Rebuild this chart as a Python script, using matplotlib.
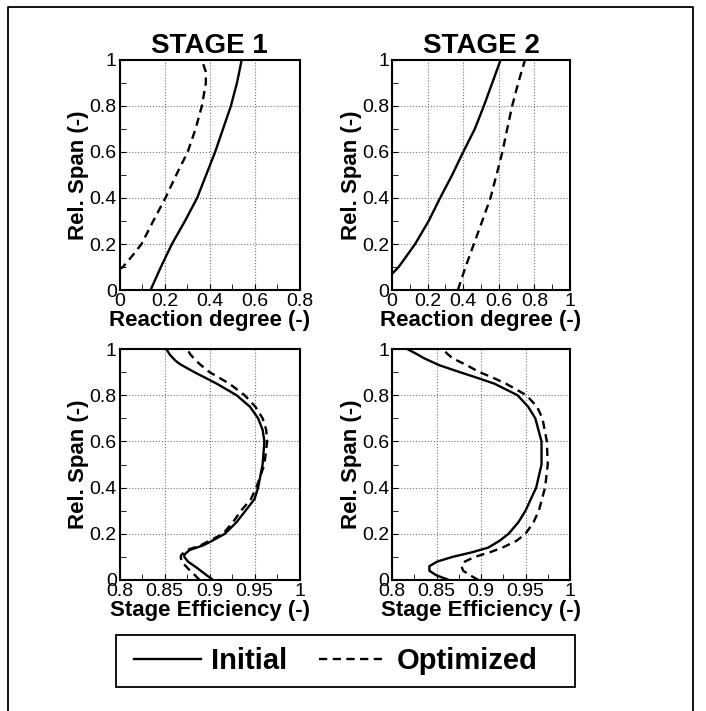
import numpy as np
import matplotlib.pyplot as plt
from matplotlib.lines import Line2D
from matplotlib.ticker import MultipleLocator

plt.rcParams["font.family"] = ["Liberation Sans", "DejaVu Sans"]
plt.rcParams["font.size"] = 14
plt.rcParams["xtick.direction"] = "in"
plt.rcParams["ytick.direction"] = "in"
plt.rcParams["xtick.major.size"] = 4
plt.rcParams["ytick.major.size"] = 4
plt.rcParams["xtick.minor.size"] = 4
plt.rcParams["ytick.minor.size"] = 4
plt.rcParams["xtick.major.pad"] = 2
plt.rcParams["ytick.major.pad"] = 2

# stage 1, reaction degree
s1_rd_init_span = [0.0, 0.1, 0.2, 0.3, 0.4, 0.5, 0.6, 0.7, 0.8, 0.9, 1.0]
s1_rd_init = [0.138, 0.184, 0.233, 0.291, 0.345, 0.385, 0.425, 0.46, 0.495, 0.522, 0.543]
s1_rd_opt_span = [0.09, 0.1, 0.15, 0.2, 0.3, 0.4, 0.5, 0.6, 0.7, 0.8, 0.9, 0.95, 1.0]
s1_rd_opt = [0.0, 0.015, 0.058, 0.098, 0.15, 0.204, 0.252, 0.303, 0.338, 0.366, 0.384, 0.383, 0.366]

# stage 2, reaction degree
s2_rd_init_span = [0.07, 0.1, 0.2, 0.3, 0.4, 0.5, 0.6, 0.7, 0.8, 0.9, 1.0]
s2_rd_init = [0.0, 0.0375, 0.13, 0.206, 0.27, 0.338, 0.40, 0.465, 0.516, 0.563, 0.61]
s2_rd_opt_span = [0.0, 0.1, 0.2, 0.3, 0.4, 0.5, 0.6, 0.7, 0.8, 0.9, 1.0]
s2_rd_opt = [0.37, 0.413, 0.46, 0.507, 0.553, 0.587, 0.62, 0.647, 0.675, 0.709, 0.747]

# stage 1, stage efficiency
s1_eff_span = [0.0, 0.02, 0.05, 0.08, 0.1, 0.11, 0.13, 0.15, 0.17, 0.2, 0.25, 0.3, 0.35, 0.4, 0.5,
               0.6, 0.65, 0.7, 0.75, 0.8, 0.85, 0.9, 0.935, 0.95, 0.975, 1.0]
s1_eff_init = [0.904, 0.897, 0.887, 0.876, 0.872, 0.872, 0.878, 0.893, 0.903, 0.917, 0.93, 0.94, 0.95, 0.954, 0.959,
               0.961, 0.959, 0.954, 0.945, 0.93, 0.908, 0.883, 0.867, 0.862, 0.856, 0.852]
s1_eff_opt = [0.889, 0.884, 0.876, 0.869, 0.868, 0.869, 0.875, 0.89, 0.9, 0.915, 0.926, 0.935, 0.946, 0.952, 0.961,
              0.964, 0.963, 0.959, 0.951, 0.939, 0.922, 0.9, 0.889, 0.885, 0.879, 0.875]

# stage 2, stage efficiency
s2_eff_span = [0.0, 0.02, 0.04, 0.06, 0.08, 0.1, 0.12, 0.14, 0.17, 0.2, 0.25, 0.3, 0.4, 0.5,
               0.6, 0.7, 0.75, 0.8, 0.85, 0.88, 0.9, 0.93, 0.96, 0.98, 1.0]
s2_eff_init = [0.864, 0.85, 0.842, 0.842, 0.851, 0.868, 0.89, 0.908, 0.921, 0.931, 0.942, 0.95, 0.962, 0.968,
               0.968, 0.961, 0.953, 0.941, 0.915, 0.892, 0.876, 0.853, 0.836, 0.827, 0.817]
s2_eff_opt = [0.897, 0.888, 0.88, 0.878, 0.882, 0.893, 0.91, 0.924, 0.94, 0.95, 0.959, 0.965, 0.972, 0.975,
              0.974, 0.969, 0.963, 0.951, 0.928, 0.911, 0.898, 0.884, 0.868, 0.862, 0.857]

W, H = 706, 711
fig = plt.figure(figsize=(W / 100, H / 100), dpi=100)


def px_axes(l, r, t, b):
    return fig.add_axes([l / W, 1 - b / H, (r - l) / W, (b - t) / H])


ax_tl = px_axes(119.5, 299.5, 60, 290)
ax_tr = px_axes(392, 570, 60, 290)
ax_bl = px_axes(119.5, 299.5, 349, 580)
ax_br = px_axes(392, 570, 349, 580)

LW = 1.7
DASH = (0, (3.5, 2.3))

panels = [
    (ax_tl, s1_rd_init, s1_rd_init_span, s1_rd_opt, s1_rd_opt_span, (0, 0.8), 0.2, 0.1, "Reaction degree (-)"),
    (ax_tr, s2_rd_init, s2_rd_init_span, s2_rd_opt, s2_rd_opt_span, (0, 1), 0.2, 0.1, "Reaction degree (-)"),
    (ax_bl, s1_eff_init, s1_eff_span, s1_eff_opt, s1_eff_span, (0.8, 1), 0.05, 0.025, "Stage Efficiency (-)"),
    (ax_br, s2_eff_init, s2_eff_span, s2_eff_opt, s2_eff_span, (0.8, 1), 0.05, 0.025, "Stage Efficiency (-)"),
]

for ax, xi, yi, xo, yo, xlim, xmaj, xmin, xlabel in panels:
    ax.plot(xi, yi, color="black", lw=LW, solid_joinstyle="round")
    ax.plot(xo, yo, color="black", lw=LW, linestyle=DASH)
    ax.set_xlim(*xlim)
    ax.set_ylim(0, 1)
    ax.xaxis.set_major_locator(MultipleLocator(xmaj))
    ax.xaxis.set_minor_locator(MultipleLocator(xmin))
    ax.yaxis.set_major_locator(MultipleLocator(0.2))
    ax.yaxis.set_minor_locator(MultipleLocator(0.1))
    ax.xaxis.set_major_formatter(lambda v, p: f"{v:g}")
    ax.yaxis.set_major_formatter(lambda v, p: f"{v:g}")
    ax.grid(True, which="major", color="0.45", linestyle=":", linewidth=0.8)
    for sp in ax.spines.values():
        sp.set_linewidth(1.5)
    ax.set_xlabel(xlabel, fontsize=16, fontweight="bold", labelpad=0)
    ax.set_ylabel("Rel. Span (-)", fontsize=16, fontweight="bold", labelpad=0)

ax_tl.set_title("STAGE 1", fontsize=20, fontweight="bold", pad=5)
ax_tr.set_title("STAGE 2", fontsize=20, fontweight="bold", pad=5)

# legend
handles = [Line2D([], [], color="black", lw=LW),
           Line2D([], [], color="black", lw=LW, linestyle=DASH)]
fig.legend(handles, ["Initial", "Optimized"], loc="center", ncol=2,
           bbox_to_anchor=(335.5 / W, 1 - 661 / H), frameon=False,
           prop={"size": 21, "weight": "bold"}, handlelength=2.3,
           handletextpad=0.35, columnspacing=1.1)
fig.add_artist(plt.Rectangle((116 / W, 1 - 687 / H), (575 - 116) / W, (687 - 635) / H,
                             transform=fig.transFigure, fill=False, lw=1.3, ec="black"))

# outer frame (open at the bottom)
fig.add_artist(Line2D([8 / W, 8 / W, 693 / W, 693 / W], [0, 1 - 7 / H, 1 - 7 / H, 0],
                      transform=fig.transFigure, color="black", lw=1.3))

fig.savefig("out.png", dpi=100)
